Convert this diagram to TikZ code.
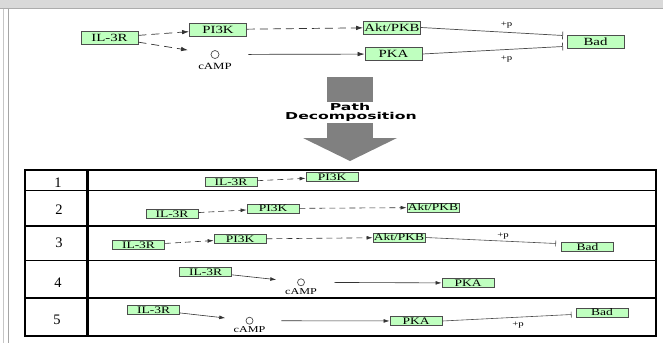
\documentclass[tikz,border=0pt]{standalone}
\usepackage{fontspec}
\usetikzlibrary{arrows.meta,calc}
\newfontfamily\keggf[FakeStretch=1.35]{Liberation Serif}
\newfontfamily\pathf[FakeStretch=1.65]{DejaVu Sans}
\newfontfamily\numf{Liberation Serif}
\definecolor{keggg}{HTML}{BFFFBF}
\definecolor{keggb}{HTML}{4D4D4D}
\definecolor{bigarrow}{HTML}{808080}
\begin{document}
\begin{tikzpicture}[x=1pt,y=-1pt,
  gene/.style={draw=keggb,fill=keggg,line width=0.8pt,minimum width=57pt,minimum height=13pt,inner sep=0pt,font=\keggf\fontsize{11}{11}\selectfont},
  tgene/.style={gene,minimum width=52pt,minimum height=9pt,font=\keggf\fontsize{10}{10}\selectfont},
  cpd/.style={draw=keggb,circle,minimum size=8pt,inner sep=0pt,line width=0.7pt},
  tcpd/.style={cpd,minimum size=7pt},
  cpdlab/.style={font=\keggf\fontsize{9.5}{9.5}\selectfont},
  tcpdlab/.style={font=\keggf\fontsize{9}{9}\selectfont},
  act/.style={draw=black!80,line width=0.7pt,-{Latex[length=7pt,width=4.5pt]}},
  ind/.style={act,dash pattern=on 8pt off 5pt},
  tact/.style={draw=black!80,line width=0.6pt,-{Latex[length=6pt,width=3.8pt]}},
  tind/.style={tact,dash pattern=on 6pt off 4pt},
  inh/.style={draw=black!70,line width=0.7pt,-{Bar[width=8pt]}},
  tinh/.style={draw=black!70,line width=0.6pt,-{Bar[width=6pt]}},
  plab/.style={font=\keggf\fontsize{8}{8}\selectfont},
  num/.style={font=\numf\fontsize{14.5}{14.5}\selectfont},
  pathtxt/.style={font=\pathf\bfseries\fontsize{9.5}{9.5}\selectfont,anchor=base,inner sep=0pt},
  tbl/.style={line width=1.8pt},
  tblo/.style={line width=2.6pt}
]
\useasboundingbox (0,0) rectangle (663,343);
% outer frame
\fill[gray!30] (0,0) rectangle (663,8);
\draw[gray!65,line width=1pt] (0,8.5) -- (663,8.5);
\draw[gray!45,line width=0.8pt] (3.5,8.5) -- (3.5,343);
\draw[gray!70,line width=1.2pt] (8.5,9) -- (8.5,343);

% top pathway
\node[gene] (il) at (109.5,37.5) {IL-3R};
\node[gene] (pi) at (218,29.5) {PI3K};
\node[gene] (akt) at (392,27.5) {Akt/PKB};
\node[gene] (pka) at (393.5,54) {PKA};
\node[gene] (bad) at (595.5,41.5) {Bad};
\node[cpd] (camp) at (215,54.5) {};
\node[cpdlab] (campl) at (215,66.5) {cAMP};
\coordinate (b1) at (563,35.5);
\coordinate (b2) at (563,46.5);
\draw[ind] (il) -- (pi);
\draw[ind,shorten >=23pt] (il) -- (camp);
\draw[ind] (pi) -- (akt);
\draw[act,shorten <=29pt] (camp) -- (pka);
\draw[inh] (akt.east) -- (b1);
\draw[inh] (pka.east) -- (b2);
\node[plab] (p1) at (506.5,25) {+p};
\node[plab] (p2) at (506.5,59) {+p};

% big arrow
\fill[bigarrow] (327,77) rectangle (373,102);
\fill[bigarrow] (327,123) rectangle (373,138);
\fill[bigarrow] (303,138) -- (397,138) -- (350,161) -- cycle;
\node[pathtxt] (pt1) at (350,110.7) {Path};
\node[pathtxt] (pt2) at (351,119.3) {Decomposition};

% table
\draw[tbl] (25,190.5) -- (656,190.5);
\draw[tbl] (25,226) -- (656,226);
\draw[tbl] (25,260.5) -- (656,260.5);
\draw[tbl] (25,298) -- (656,298);
\draw[tblo] (87.5,170) -- (87.5,336);
\draw[tblo] (25,170) rectangle (656,336);
\node[num] (n1) at (58,183) {1};
\node[num] (n2) at (59,210) {2};
\node[num] (n3) at (59,242.5) {3};
\node[num] (n4) at (58,283) {4};
\node[num] (n5) at (57,320) {5};

% row 1
\node[tgene] (r1il) at (231,182) {IL-3R};
\node[tgene] (r1pi) at (332,177) {PI3K};
\draw[tind] (r1il) -- (r1pi);

% row 2
\node[tgene] (r2il) at (172,214) {IL-3R};
\node[tgene] (r2pi) at (273,208.5) {PI3K};
\node[tgene] (r2akt) at (433,207.5) {Akt/PKB};
\draw[tind] (r2il) -- (r2pi);
\draw[tind] (r2pi) -- (r2akt);

% row 3
\node[tgene] (r3il) at (138.5,245) {IL-3R};
\node[tgene] (r3pi) at (240,239) {PI3K};
\node[tgene] (r3akt) at (399,237.5) {Akt/PKB};
\node[tgene] (r3bad) at (587.5,247) {Bad};
\coordinate (r3b) at (556,243.5);
\draw[tind] (r3il) -- (r3pi);
\draw[tind] (r3pi) -- (r3akt);
\draw[tinh] (r3akt.east) -- (r3b);
\node[plab] (r3p) at (503,236) {+p};

% row 4
\node[tgene] (r4il) at (205.7,272) {IL-3R};
\node[tcpd] (r4camp) at (301,282.3) {};
\node[tcpdlab] (r4campl) at (301,291.7) {cAMP};
\node[tgene] (r4pka) at (468,283) {PKA};
\draw[tact,shorten >=21pt] (r4il) -- (r4camp);
\draw[tact,shorten <=29.5pt] (r4camp) -- (r4pka);

% row 5
\node[tgene] (r5il) at (153.7,310) {IL-3R};
\node[tcpd] (r5camp) at (249.5,320.7) {};
\node[tcpdlab] (r5campl) at (249.5,330) {cAMP};
\node[tgene] (r5pka) at (416,321) {PKA};
\node[tgene] (r5bad) at (602,312.5) {Bad};
\coordinate (r5b) at (571.5,314.5);
\draw[tact,shorten >=20.5pt] (r5il) -- (r5camp);
\draw[tact,shorten <=28pt] (r5camp) -- (r5pka);
\draw[tinh] (r5pka.east) -- (r5b);
\node[plab] (r5p) at (518,325) {+p};
\end{tikzpicture}
\end{document}
